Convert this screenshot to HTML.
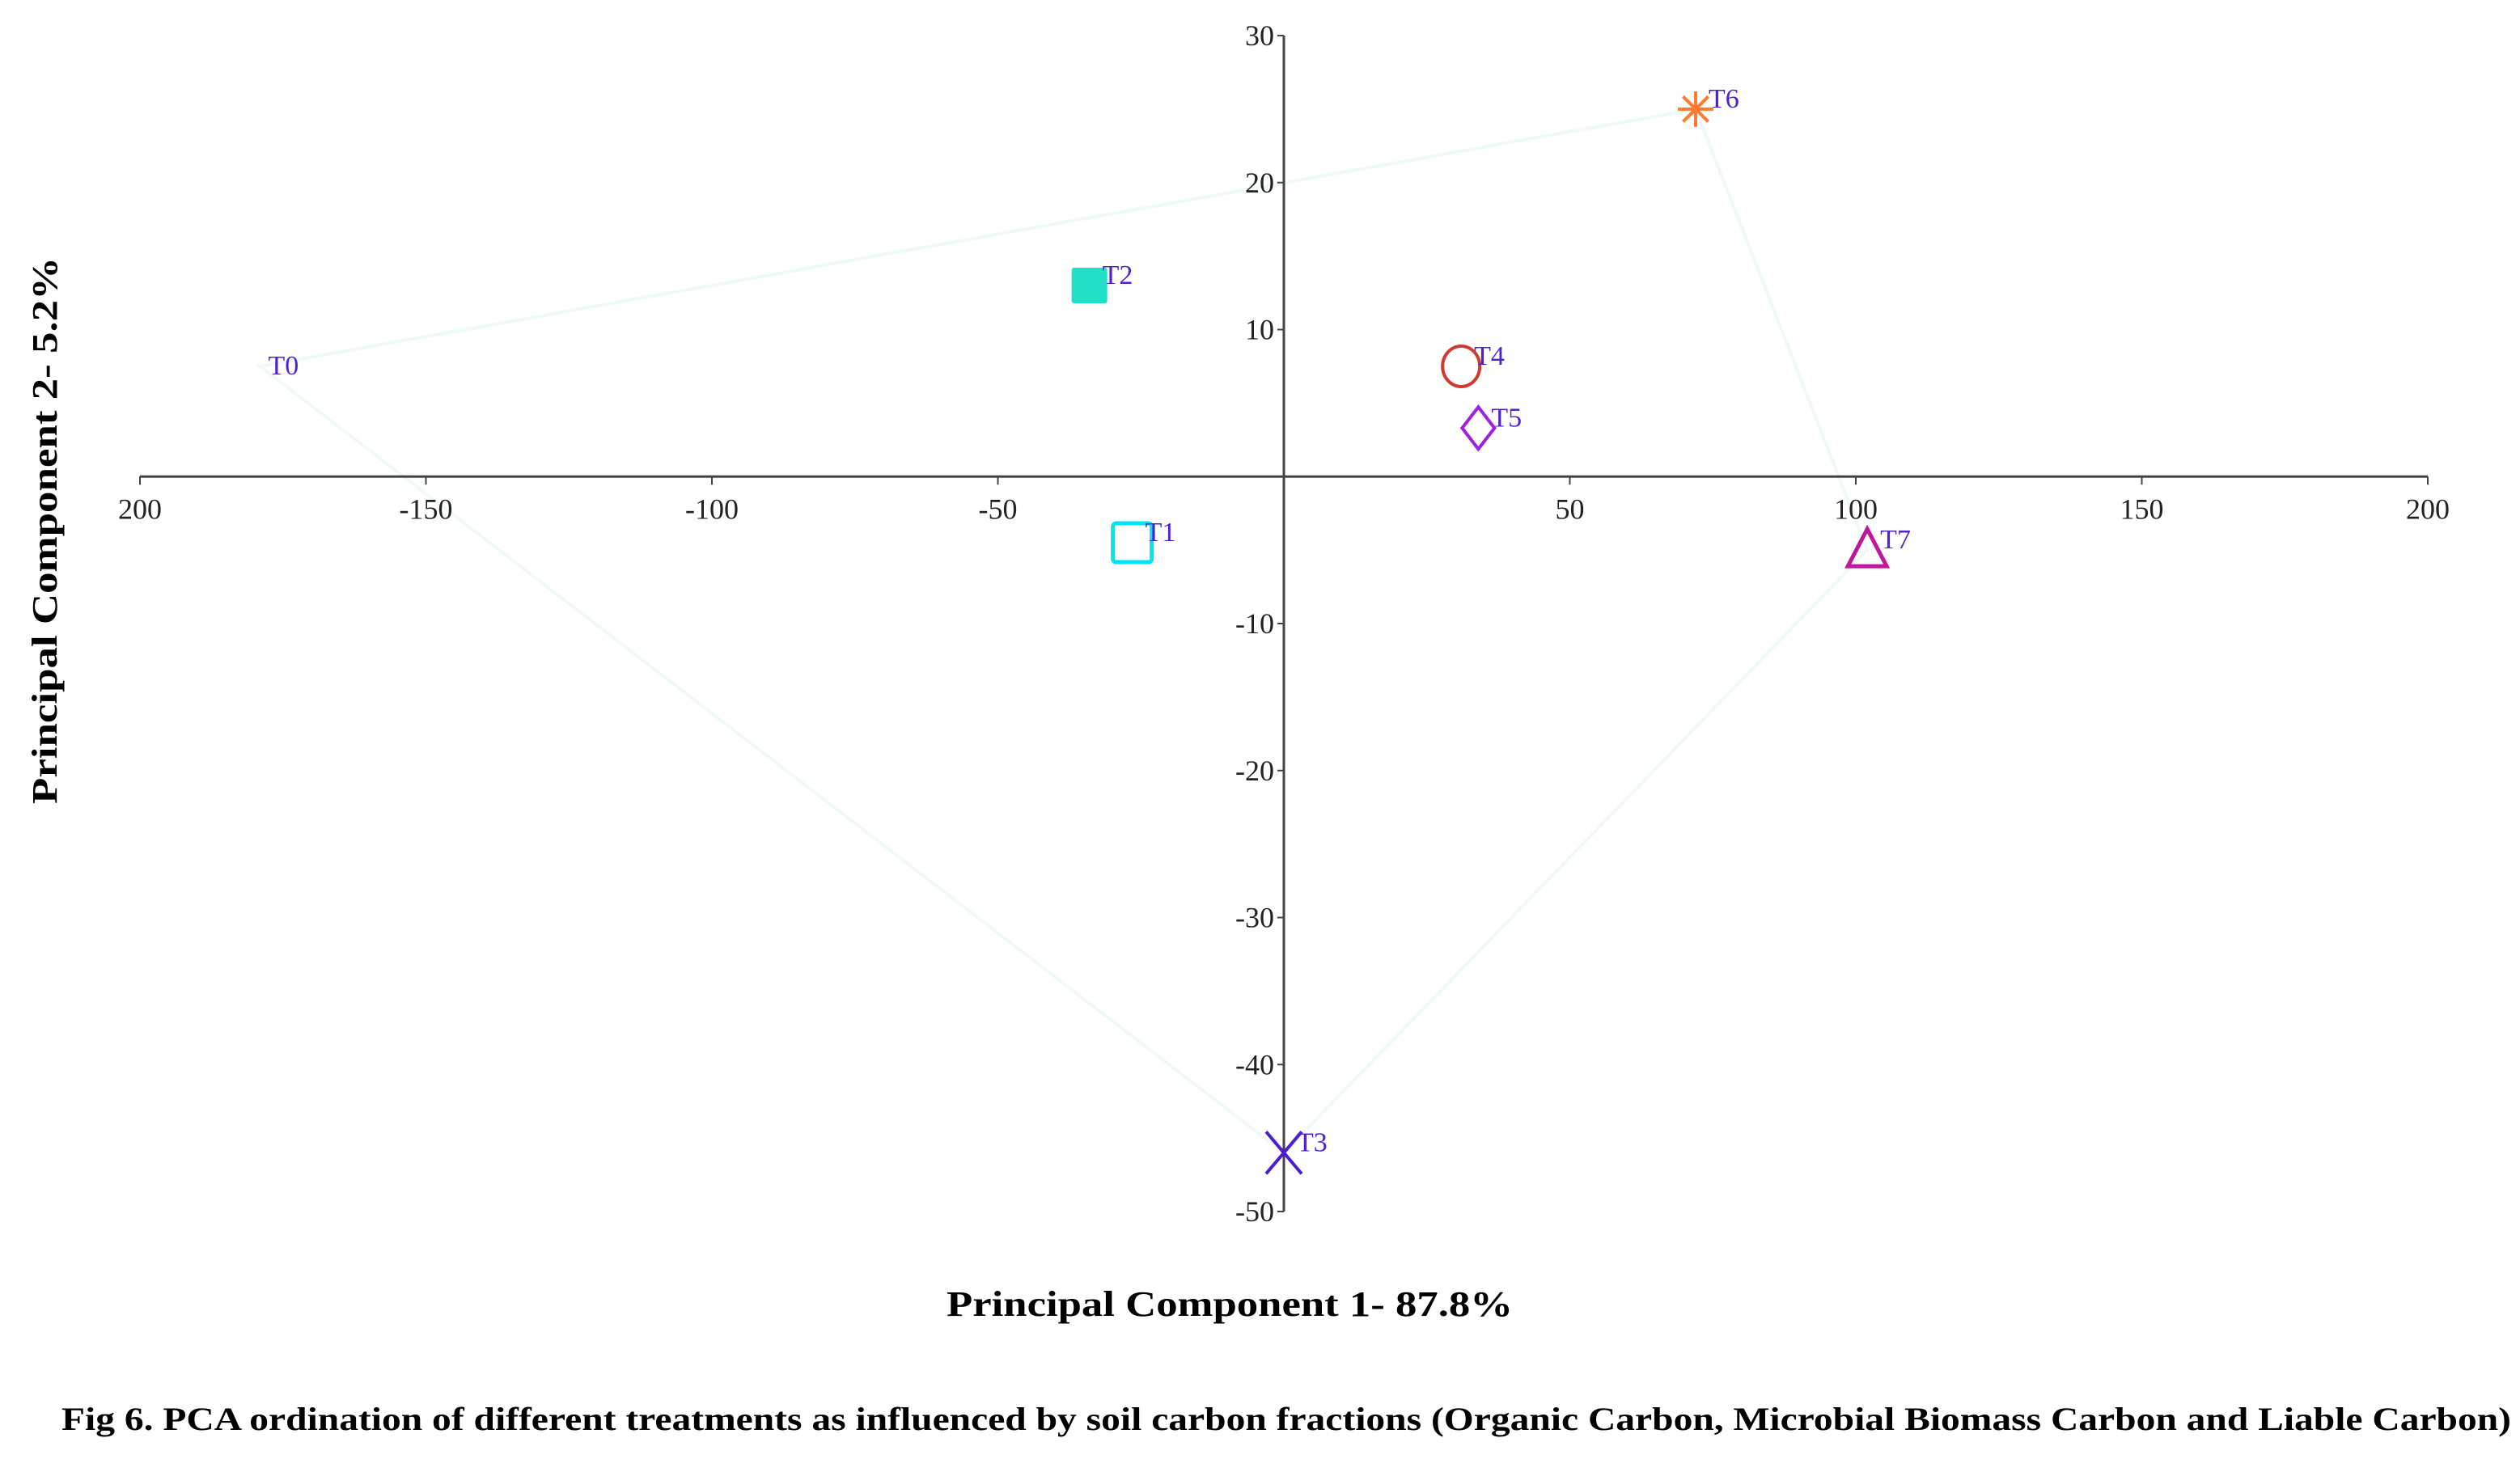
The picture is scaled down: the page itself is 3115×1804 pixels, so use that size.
<!DOCTYPE html>
<html><head><meta charset="utf-8"><style>
html,body{margin:0;padding:0;background:#fff;}
svg{display:block;}
text{font-family:"Liberation Serif",serif;}
</style></head>
<body>
<svg id="chart" width="3115" height="1804" viewBox="0 0 3115 1804" xmlns="http://www.w3.org/2000/svg">
<g id="hull"></g>
<g id="axes"></g>
<g id="points"></g>
<text x="1520" y="1627" text-anchor="middle" font-size="44" font-weight="bold" textLength="700" lengthAdjust="spacingAndGlyphs">Principal Component 1- 87.8%</text>
<text transform="translate(70,656) rotate(-90)" text-anchor="middle" font-size="44" font-weight="bold" textLength="676" lengthAdjust="spacingAndGlyphs">Principal Component 2- 5.2%</text>
<text x="76" y="1768" font-size="40" font-weight="bold" textLength="3028" lengthAdjust="spacingAndGlyphs">Fig 6. PCA ordination of different treatments as influenced by soil carbon fractions (Organic Carbon, Microbial Biomass Carbon and Liable Carbon)</text>
</svg>
<script>
const labels = ["T0","T1","T2","T3","T4","T5","T6","T7"];
const pc1 = [-179, -26.5, -34, 0, 31, 34, 72, 102];
const pc2 = [7.5, -4.5, 13, -46, 7.5, 3.3, 25, -5];
const hullOrder = ["T0","T6","T7","T3"];
const xTicks = [-200,-150,-100,-50,50,100,150,200];
const xTickLabels = ["200","-150","-100","-50","50","100","150","200"];
const yTicks = [30,20,10,-10,-20,-30,-40,-50];

const NS="http://www.w3.org/2000/svg";
const X0=173,X1=3001,Y0=44,Y1=1498;
const sx=v=>X0+(v+200)/400*(X1-X0);
const sy=v=>Y0+(30-v)/80*(Y1-Y0);
function mk(tag,attrs,parent){const e=document.createElementNS(NS,tag);for(const k in attrs)e.setAttribute(k,attrs[k]);parent.appendChild(e);return e;}

const axes=document.getElementById('axes');
let l=mk('line',{x1:sx(-200),x2:sx(200),y1:sy(0),y2:sy(0),stroke:'#444','stroke-width':3},axes);


l=mk('line',{x1:sx(0),x2:sx(0),y1:sy(30),y2:sy(-50),stroke:'#444','stroke-width':3},axes);


xTicks.forEach((v,i)=>{
  mk('line',{x1:sx(v),x2:sx(v),y1:sy(0),y2:sy(0)+10,stroke:'#444','stroke-width':2},axes);
  const t=mk('text',{x:sx(v),y:sy(0)+52,'text-anchor':'middle','font-size':36,fill:'#222'},axes);
  t.textContent=xTickLabels[i];
  
  
});
yTicks.forEach(v=>{
  mk('line',{x1:sx(0)-8,x2:sx(0),y1:sy(v),y2:sy(v),stroke:'#444','stroke-width':2},axes);
  const t=mk('text',{x:sx(0)-12,y:sy(v)+12,'text-anchor':'end','font-size':36,fill:'#222'},axes);
  t.textContent=String(v);
  
  
});

const hull=document.getElementById('hull');
const hp=hullOrder.map(n=>{const i=labels.indexOf(n);return sx(pc1[i])+','+sy(pc2[i]);}).join(' ');
const poly=mk('polygon',{points:hp,fill:'none',stroke:'#eef9f8','stroke-width':4},hull);



const pts=document.getElementById('points');
const styles={
 T0:{c:'#5a2bd0'},T1:{c:'#00e5f0'},T2:{c:'#22e0c8'},T3:{c:'#4b1fd0'},
 T4:{c:'#d03a30'},T5:{c:'#a020e0'},T6:{c:'#ff7a30'},T7:{c:'#c0189a'}
};
labels.forEach((n,i)=>{
  const x=sx(pc1[i]),y=sy(pc2[i]);const c=styles[n].c;
  const g=mk('g',{},pts);
  
  
  if(n==='T1') mk('rect',{x:x-24,y:y-24,width:48,height:48,rx:4,fill:'none',stroke:c,'stroke-width':5},g);
  if(n==='T2') mk('rect',{x:x-22,y:y-22,width:44,height:44,rx:3,fill:c},g);
  if(n==='T3'){mk('line',{x1:x-22,y1:y-26,x2:x+22,y2:y+26,stroke:c,'stroke-width':4},g);mk('line',{x1:x+22,y1:y-26,x2:x-22,y2:y+26,stroke:c,'stroke-width':4},g);}
  if(n==='T4') mk('ellipse',{cx:x,cy:y,rx:23,ry:25,fill:'none',stroke:c,'stroke-width':4},g);
  if(n==='T5') mk('polygon',{points:`${x},${y-26} ${x+20},${y} ${x},${y+26} ${x-20},${y}`,fill:'none',stroke:c,'stroke-width':4},g);
  if(n==='T6'){for(let a=0;a<4;a++){const an=a*Math.PI/4;mk('line',{x1:x-22*Math.cos(an),y1:y-22*Math.sin(an),x2:x+22*Math.cos(an),y2:y+22*Math.sin(an),stroke:c,'stroke-width':4},g);}}
  if(n==='T7') mk('polygon',{points:`${x},${y-26} ${x+24},${y+20} ${x-24},${y+20}`,fill:'none',stroke:c,'stroke-width':5},g);
  const t=mk('text',{x:n==='T0'?x+10:x+16,y:n==='T0'?y+10:y-2,'font-size':34,fill:'#5020d8'},g);
  t.textContent=n;
  
  
});
</script>
</body></html>
